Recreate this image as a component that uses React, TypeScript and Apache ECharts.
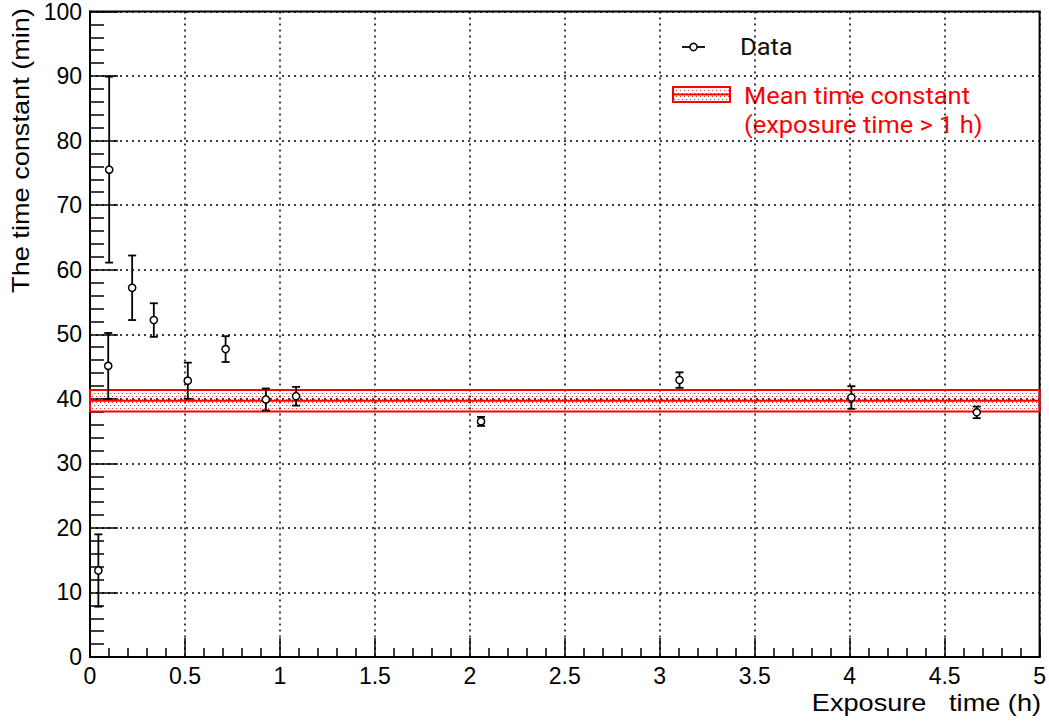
import React, { useEffect, useRef } from "react";
import * as echarts from "echarts";

// Measured time constants (min) against exposure time (h)
const exposureHours = [0.044, 0.101, 0.096, 0.222, 0.336, 0.515, 0.714, 0.926, 1.085, 2.059, 3.104, 4.009, 4.669];
const timeConstants = [13.4, 75.5, 45.1, 57.2, 52.2, 42.8, 47.7, 39.9, 40.4, 36.5, 42.9, 40.2, 37.9];
const timeConstantErrors = [5.6, 14.4, 5.1, 5.0, 2.6, 2.8, 2.0, 1.7, 1.45, 0.7, 1.2, 1.75, 0.9];

// Mean time constant for exposure time > 1 h, with its uncertainty
const meanTimeConstant = 39.7;
const meanTimeConstantError = 1.65;

const xTicks = [0, 0.5, 1, 1.5, 2, 2.5, 3, 3.5, 4, 4.5, 5];
const yTicks = [0, 10, 20, 30, 40, 50, 60, 70, 80, 90, 100];

const RED = "#ff0000";
const AXIS_FONT = "'Liberation Sans', Helvetica, Arial, sans-serif";
const LEGEND_FONT = "Roboto, 'Noto Sans', sans-serif";

// Sparse dot hatch used for the uncertainty band
function makeDotPattern(): HTMLCanvasElement {
  const c = document.createElement("canvas");
  c.width = 4;
  c.height = 6;
  const ctx = c.getContext("2d")!;
  ctx.clearRect(0, 0, 4, 6);
  ctx.fillStyle = "rgba(255,0,0,0.8)";
  ctx.fillRect(0, 0, 1, 1);
  ctx.fillRect(2, 3, 1, 1);
  return c;
}

export default function App() {
  const ref = useRef<HTMLDivElement>(null);

  useEffect(() => {
    if (!ref.current) return;
    const chart = echarts.init(ref.current, null, { renderer: "svg" });
    const pattern = makeDotPattern();
    const patternFill: any = { image: pattern, repeat: "repeat", imageWidth: 4, imageHeight: 6 };

    const points = exposureHours.map((x, i) => [x, timeConstants[i], timeConstantErrors[i]]);

    const option: any = {
      animation: false,
      backgroundColor: "#ffffff",
      grid: {
        left: 90,
        right: 7,
        top: 10,
        bottom: 64,
        show: true,
        borderColor: "#000",
        borderWidth: 2,
        backgroundColor: "transparent",
      },
      xAxis: {
        type: "value",
        min: xTicks[0],
        max: xTicks[xTicks.length - 1],
        interval: 0.5,
        axisLine: { show: true, onZero: false, lineStyle: { color: "#000", width: 2 } },
        axisTick: { show: true, inside: true, length: 19, lineStyle: { color: "#000", width: 1.5 } },
        minorTick: { show: true, splitNumber: 5, length: 9, lineStyle: { color: "#000", width: 1.5 } },
        axisLabel: {
          color: "#000",
          fontSize: 23,
          fontFamily: AXIS_FONT,
          margin: 7,
          formatter: (v: number) => String(v),
        },
        splitLine: { show: true, lineStyle: { color: "#000", type: [2, 4], width: 1.5 } },
      },
      yAxis: {
        type: "value",
        min: yTicks[0],
        max: yTicks[yTicks.length - 1],
        interval: 10,
        axisLine: { show: true, onZero: false, lineStyle: { color: "#000", width: 2 } },
        axisTick: { show: true, inside: true, length: 28, lineStyle: { color: "#000", width: 1.5 } },
        minorTick: { show: true, splitNumber: 5, length: 14, lineStyle: { color: "#000", width: 1.5 } },
        axisLabel: { color: "#000", fontSize: 23, fontFamily: AXIS_FONT, margin: 8 },
        splitLine: { show: true, lineStyle: { color: "#000", type: [2, 4], width: 1.5 } },
      },
      series: [
        {
          type: "custom",
          name: "Mean time constant",
          z: 2,
          data: [[0, meanTimeConstant, meanTimeConstantError]],
          encode: { x: 0, y: 1 },
          renderItem: (params: any, api: any) => {
            const cs = params.coordSys;
            const mean = api.value(1);
            const err = api.value(2);
            const yTop = api.coord([0, mean + err])[1];
            const yBot = api.coord([0, mean - err])[1];
            const yMid = api.coord([0, mean])[1];
            const x0 = cs.x;
            const x1 = cs.x + cs.width;
            return {
              type: "group",
              children: [
                {
                  type: "rect",
                  shape: { x: x0, y: yTop, width: x1 - x0, height: yBot - yTop },
                  style: { fill: patternFill, stroke: RED, lineWidth: 2 },
                },
                {
                  type: "line",
                  shape: { x1: x0, y1: yMid, x2: x1, y2: yMid },
                  style: { stroke: RED, lineWidth: 2 },
                },
              ],
            };
          },
        },
        {
          type: "custom",
          name: "Data",
          z: 5,
          data: points,
          encode: { x: 0, y: 1 },
          renderItem: (params: any, api: any) => {
            const x = api.value(0);
            const y = api.value(1);
            const e = api.value(2);
            const c = api.coord([x, y]);
            const hi = api.coord([x, y + e]);
            const lo = api.coord([x, y - e]);
            const cap = 4;
            const r = 3.6;
            const lineStyle = { stroke: "#000", lineWidth: 1.8 };
            return {
              type: "group",
              children: [
                { type: "line", shape: { x1: c[0], y1: hi[1], x2: c[0], y2: c[1] - r }, style: lineStyle },
                { type: "line", shape: { x1: c[0], y1: c[1] + r, x2: c[0], y2: lo[1] }, style: lineStyle },
                { type: "line", shape: { x1: c[0] - cap, y1: hi[1], x2: c[0] + cap, y2: hi[1] }, style: lineStyle },
                { type: "line", shape: { x1: c[0] - cap, y1: lo[1], x2: c[0] + cap, y2: lo[1] }, style: lineStyle },
                {
                  type: "circle",
                  shape: { cx: c[0], cy: c[1], r },
                  style: { fill: "#fff", stroke: "#000", lineWidth: 1.5 },
                },
              ],
            };
          },
        },
      ],
      graphic: [
        // y-axis title, right-aligned to the top of the axis
        {
          type: "text",
          x: 21,
          y: 8,
          rotation: Math.PI / 2,
          scaleX: 1.18,
          style: {
            text: "The time constant (min)",
            fill: "#000",
            fontSize: 23,
            fontFamily: AXIS_FONT,
            align: "right",
            verticalAlign: "middle",
          },
        },
        // x-axis title, right-aligned to the end of the axis
        {
          type: "text",
          x: 1041,
          y: 703,
          scaleX: 1.18,
          style: {
            text: "Exposure   time (h)",
            fill: "#000",
            fontSize: 23,
            fontFamily: AXIS_FONT,
            align: "right",
            verticalAlign: "middle",
          },
        },
        // legend: data marker
        {
          type: "group",
          z: 20,
          children: [
            { type: "line", shape: { x1: 682, y1: 47, x2: 705, y2: 47 }, style: { stroke: "#000", lineWidth: 1.8 } },
            { type: "circle", shape: { cx: 693.5, cy: 47, r: 3.6 }, style: { fill: "#fff", stroke: "#000", lineWidth: 1.5 } },
            {
              type: "text",
              x: 740,
              y: 47,
              scaleX: 1.06,
              style: { text: "Data", fill: "#111", fontSize: 24, fontFamily: LEGEND_FONT, verticalAlign: "middle" },
            },
          ],
        },
        // legend: mean band
        {
          type: "group",
          z: 20,
          children: [
            {
              type: "rect",
              shape: { x: 673, y: 87, width: 57, height: 15 },
              style: { fill: patternFill, stroke: RED, lineWidth: 2 },
            },
            { type: "line", shape: { x1: 673, y1: 94.5, x2: 730, y2: 94.5 }, style: { stroke: RED, lineWidth: 2 } },
            {
              type: "text",
              x: 744,
              y: 96,
              scaleX: 1.06,
              style: { text: "Mean time constant", fill: RED, fontSize: 24, fontFamily: LEGEND_FONT, verticalAlign: "middle" },
            },
            {
              type: "text",
              x: 744,
              y: 125,
              scaleX: 1.06,
              style: { text: "(exposure time > 1 h)", fill: RED, fontSize: 24, fontFamily: LEGEND_FONT, verticalAlign: "middle" },
            },
          ],
        },
      ],
    };

    chart.setOption(option);
    return () => chart.dispose();
  }, []);

  return (
    <div
      ref={ref}
      style={{ position: "fixed", left: 0, top: 0, width: 1049, height: 721, background: "#fff" }}
    />
  );
}
